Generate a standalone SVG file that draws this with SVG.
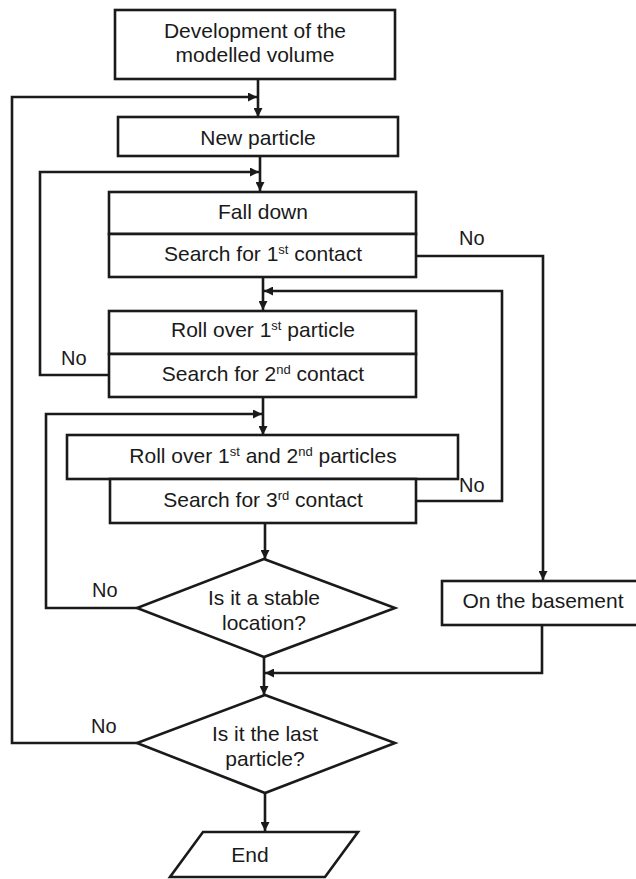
<svg xmlns="http://www.w3.org/2000/svg" width="636" height="879" viewBox="0 0 636 879">
<style>
.box{fill:#fff;stroke:#1a1a1a;stroke-width:2.6}
.ln{fill:none;stroke:#1a1a1a;stroke-width:2.6}
.t{font-family:"Liberation Sans",Arial,sans-serif;font-size:21px;fill:#1a1a1a;text-anchor:middle}
.s{font-size:13px}
.no{font-family:"Liberation Sans",Arial,sans-serif;font-size:20px;fill:#1a1a1a}
</style>
<defs>
<marker id="ah" viewBox="0 0 10 10" refX="10" refY="5" markerWidth="9" markerHeight="9" markerUnits="userSpaceOnUse" orient="auto">
<path d="M0,0 L10,5 L0,10 Z" fill="#1a1a1a"/>
</marker>
</defs>
<rect width="636" height="879" fill="#fff"/>
<g id="connectors">
<path class="ln" d="M258,79 V117" marker-end="url(#ah)"/>
<path class="ln" d="M137,743 H12 V97 H257" marker-end="url(#ah)"/>
<path class="ln" d="M260,156 V191" marker-end="url(#ah)"/>
<path class="ln" d="M109,375 H40 V172 H259" marker-end="url(#ah)"/>
<path class="ln" d="M416,256 H543 V580" marker-end="url(#ah)"/>
<path class="ln" d="M263,277 V310" marker-end="url(#ah)"/>
<path class="ln" d="M416,501 H502 V291 H264" marker-end="url(#ah)"/>
<path class="ln" d="M263,397 V435" marker-end="url(#ah)"/>
<path class="ln" d="M137,608 H46 V414 H262" marker-end="url(#ah)"/>
<path class="ln" d="M265,523 V559" marker-end="url(#ah)"/>
<path class="ln" d="M264,657 V695" marker-end="url(#ah)"/>
<path class="ln" d="M542,625 V673 H265" marker-end="url(#ah)"/>
<path class="ln" d="M265,793 V831" marker-end="url(#ah)"/>
<text class="no" x="459" y="245">No</text>
<text class="no" x="61" y="365">No</text>
<text class="no" x="459" y="492">No</text>
<text class="no" x="92" y="597">No</text>
<text class="no" x="91" y="733">No</text>
</g>
<g id="n1">
<rect class="box" x="115" y="10" width="280" height="69"/>
<text class="t" x="255" y="38">Development of the</text>
<text class="t" x="255" y="62">modelled volume</text>
</g>
<g id="n2">
<rect class="box" x="118" y="117" width="280" height="39"/>
<text class="t" x="258" y="145">New particle</text>
</g>
<g id="n3">
<rect class="box" x="109" y="192" width="307" height="42"/>
<text class="t" x="263" y="219">Fall down</text>
</g>
<g id="n4">
<rect class="box" x="109" y="234" width="307" height="43"/>
<text class="t" x="263" y="261">Search for 1<tspan class="s" dy="-7">st</tspan><tspan dy="7"> contact</tspan></text>
</g>
<g id="n5">
<rect class="box" x="109" y="311" width="307" height="43"/>
<text class="t" x="263" y="337">Roll over 1<tspan class="s" dy="-7">st</tspan><tspan dy="7"> particle</tspan></text>
</g>
<g id="n6">
<rect class="box" x="109" y="354" width="307" height="43"/>
<text class="t" x="263" y="381">Search for 2<tspan class="s" dy="-7">nd</tspan><tspan dy="7"> contact</tspan></text>
</g>
<g id="n7">
<rect class="box" x="67" y="435" width="391" height="44"/>
<text class="t" x="263" y="463">Roll over 1<tspan class="s" dy="-7">st</tspan><tspan dy="7"> and 2</tspan><tspan class="s" dy="-7">nd</tspan><tspan dy="7"> particles</tspan></text>
</g>
<g id="n8">
<rect class="box" x="110" y="479" width="306" height="44"/>
<text class="t" x="263" y="507">Search for 3<tspan class="s" dy="-7">rd</tspan><tspan dy="7"> contact</tspan></text>
</g>
<g id="n9">
<polygon class="box" points="264,559 395,608 264,657 137,608"/>
<text class="t" x="264" y="605">Is it a stable</text>
<text class="t" x="264" y="630">location?</text>
</g>
<g id="n10">
<rect class="box" x="442" y="581" width="200" height="44"/>
<text class="t" x="543" y="608">On the basement</text>
</g>
<g id="n11">
<polygon class="box" points="265,695 395,743 265,793 137,743"/>
<text class="t" x="265" y="741">Is it the last</text>
<text class="t" x="265" y="766">particle?</text>
</g>
<g id="n12">
<polygon class="box" points="203,832 358,832 325,877 170,877"/>
<text class="t" x="250" y="862">End</text>
</g>
</svg>
